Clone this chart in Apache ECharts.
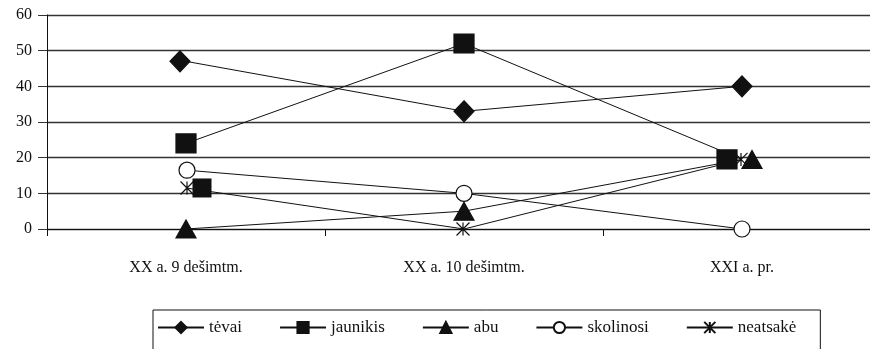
<!DOCTYPE html>
<html><head><meta charset="utf-8">
<script src="https://cdn.jsdelivr.net/npm/echarts@6/dist/echarts.min.js"></script>
<style>html,body{margin:0;padding:0;background:#fff;overflow:hidden}#c{width:881px;height:349px}</style>
</head><body><div id="c"></div>
<script>
const categories = ['XX a. 9 dešimtm.', 'XX a. 10 dešimtm.', 'XXI a. pr.'];
const seriesNames = ['tėvai', 'jaunikis', 'abu', 'skolinosi', 'neatsakė'];
const tevai = [47, 33, 40];
const jaunikis = [24, 52, 19.5];
const abu = [0, 5, 19.5];
const skolinosi = [16.5, 10, 0];
const neatsake = [11.5, 0, 19.5];
const jaunikisExtra = [11.5, '-', '-'];
const yTicks = [0, 10, 20, 30, 40, 50, 60];

const FONT = 'Liberation Serif';
const STAR = 'path://M0,0L10,10M10,0L0,10M5,0L5,10';
const offsets = {
  'tėvai': [[-6,0],[0,0],[0,0]],
  'jaunikis': [[0,0],[0,0],[-15,0]],
  'abu': [[0,0],[0,0],[10,0]],
  'skolinosi': [[1,0],[0,0],[0,0]],
  'neatsakė': [[1,0],[-1,0],[-1,0]]
};
const styles = {
  'tėvai': {symbol:'diamond', size:[20,21], fill:'#111'},
  'jaunikis': {symbol:'rect', size:[20,19], fill:'#111'},
  'abu': {symbol:'triangle', size:[20,18], fill:'#111'},
  'skolinosi': {symbol:'circle', size:16, fill:'#fff'},
  'neatsakė': {symbol:STAR, size:13, fill:'#111'}
};
const values = {'tėvai':tevai,'jaunikis':jaunikis,'abu':abu,'skolinosi':skolinosi,'neatsakė':neatsake};

const series = seriesNames.map(n => ({
  name: n, type: 'line', z: 3,
  symbol: styles[n].symbol, symbolSize: styles[n].size,
  data: values[n].map((v,i) => ({value: v, symbolOffset: offsets[n][i]})),
  lineStyle: {color:'#111', width:1},
  itemStyle: {color: styles[n].fill, borderColor:'#111', borderWidth: 1.2},
  emphasis: {disabled:true}, animation:false
}));
series.push({
  name: 'jaunikis', type: 'scatter', z: 4, symbol: 'rect', symbolSize: [19,19],
  data: jaunikisExtra.map(v => ({value: v, symbolOffset: [16,0]})),
  itemStyle: {color:'#111', opacity: 1}, emphasis:{disabled:true}, animation:false
});

const chart = echarts.init(document.getElementById('c'));
chart.setOption({
  backgroundColor: '#fff',
  animation: false,
  grid: {left: 47, right: 0, top: 15, bottom: 120, containLabel: false},
  legend: {
    data: seriesNames, left: 153, top: 310, orient: 'horizontal',
    borderColor: '#111', borderWidth: 1, padding: [9, 24, 40, 4],
    itemWidth: 46, itemHeight: 14, itemGap: 37,
    textStyle: {fontFamily: FONT, fontSize: 17, color: '#111'},
    selectedMode: false
  },
  xAxis: {
    type: 'category', data: categories, boundaryGap: true,
    axisLine: {lineStyle: {color: '#111', width: 1}},
    axisTick: {show: true, length: 7, inside: false, lineStyle: {color:'#111'}},
    axisLabel: {fontFamily: FONT, fontSize: 16, color: '#111', margin: 31, interval: 0}
  },
  yAxis: {
    type: 'value', min: yTicks[0], max: yTicks[yTicks.length-1], interval: 10,
    axisLine: {show: true, lineStyle: {color: '#111', width: 1}},
    axisTick: {show: true, length: 9, lineStyle: {color:'#333'}},
    axisLabel: {fontFamily: FONT, fontSize: 16, color: '#111', margin: 15},
    splitLine: {lineStyle: {color: '#333', width: 1.3}}
  },
  series: series
});
</script></body></html>
